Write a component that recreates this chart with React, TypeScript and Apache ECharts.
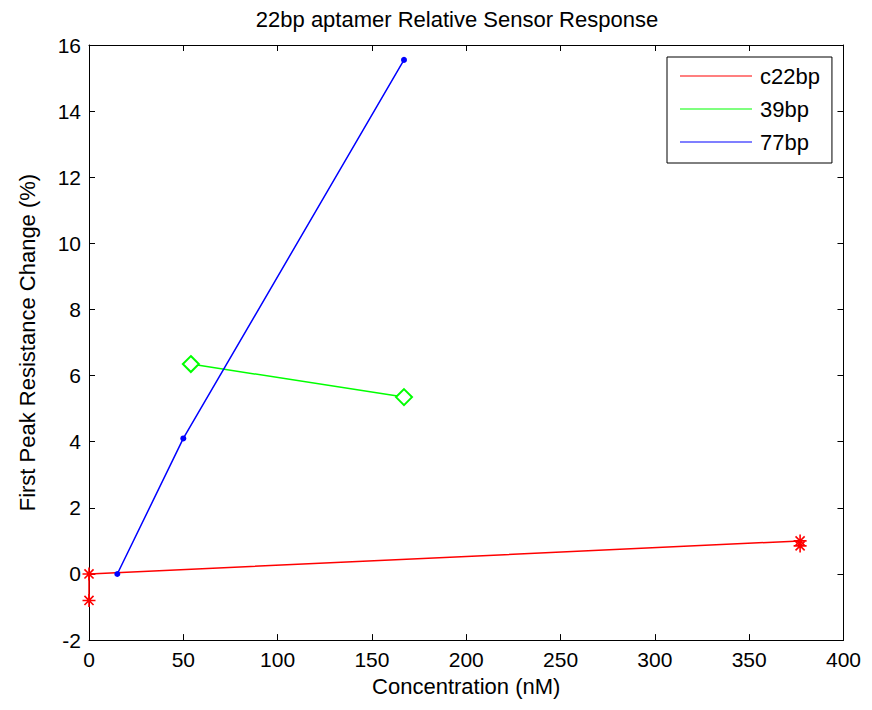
import React, { useEffect, useRef } from "react";
import * as echarts from "echarts";

const titleText = "22bp aptamer Relative Sensor Response";
const xName = "Concentration (nM)";
const yName = "First Peak Resistance Change (%)";

const c22bp: [number, number][] = [
  [0, -0.8],
  [0, 0],
  [377, 1.0],
  [377, 0.85],
];
const bp39: [number, number][] = [
  [54, 6.35],
  [167, 5.35],
];
const bp77: [number, number][] = [
  [15, 0],
  [50, 4.1],
  [167, 15.55],
];

const xMin = 0, xMax = 400, xStep = 50;
const yMin = -2, yMax = 16, yStep = 2;

const FONT = "Liberation Sans, Arial, sans-serif";
const FS = 22;
const TFS = 21;
const asterisk = "path://M0,-1L0,1M-1,0L1,0M-0.7,-0.7L0.7,0.7M-0.7,0.7L0.7,-0.7";

export default function App() {
  const ref = useRef<HTMLDivElement>(null);
  useEffect(() => {
    if (!ref.current) return;
    const chart = echarts.init(ref.current, null, { renderer: "svg" });
    const axisCommon = {
      axisLine: { show: true, onZero: false, lineStyle: { color: "#000", width: 1 } },
      axisTick: { show: true, inside: true, length: 6, lineStyle: { color: "#000" } },
      splitLine: { show: false },
    };
    chart.setOption({
      animation: false,
      backgroundColor: "#fff",
      title: {
        text: titleText,
        left: 449,
        textAlign: "center",
        top: 0,
        padding: 0,
        textStyle: { fontFamily: FONT, fontSize: FS, fontWeight: "normal", color: "#000" },
      },
      grid: { left: 74, right: 16, top: 37, bottom: 55, containLabel: false },
      legend: {
        left: 659,
        top: 49,
        orient: "vertical",
        icon: "rect",
        itemWidth: 72,
        itemHeight: 1.2,
        itemGap: 11,
        padding: [8, 12, 10, 13],
        borderColor: "#000",
        borderWidth: 1,
        backgroundColor: "#fff",
        itemStyle: { borderWidth: 0 },
        textStyle: { fontFamily: FONT, fontSize: FS, color: "#000", padding: [0, 0, 0, 3] },
        data: ["c22bp", "39bp", "77bp"],
      },
      xAxis: [
        {
          type: "value",
          min: xMin,
          max: xMax,
          interval: xStep,
          position: "bottom",
          name: xName,
          nameLocation: "middle",
          nameGap: 34,
          nameTextStyle: { fontFamily: FONT, fontSize: FS, color: "#000" },
          axisLabel: { fontFamily: FONT, fontSize: TFS, color: "#000", margin: 9 },
          ...axisCommon,
        },
        {
          type: "value",
          min: xMin,
          max: xMax,
          interval: xStep,
          position: "top",
          axisLabel: { show: false },
          ...axisCommon,
        },
      ],
      yAxis: [
        {
          type: "value",
          min: yMin,
          max: yMax,
          interval: yStep,
          position: "left",
          name: yName,
          nameLocation: "middle",
          nameGap: 51,
          nameTextStyle: { fontFamily: FONT, fontSize: FS, color: "#000" },
          axisLabel: { fontFamily: FONT, fontSize: TFS, color: "#000", margin: 8 },
          ...axisCommon,
        },
        {
          type: "value",
          min: yMin,
          max: yMax,
          interval: yStep,
          position: "right",
          axisLabel: { show: false },
          ...axisCommon,
        },
      ],
      series: [
        {
          name: "c22bp",
          type: "line",
          data: c22bp,
          xAxisIndex: 0,
          yAxisIndex: 0,
          color: "#ff0000",
          lineStyle: { color: "#ff0000", width: 1.5 },
          symbol: asterisk,
          symbolSize: 13,
          itemStyle: { color: "#ff0000", borderColor: "#ff0000", borderWidth: 1.6 },
          showAllSymbol: true,
        },
        {
          name: "39bp",
          type: "line",
          data: bp39,
          color: "#00ff00",
          lineStyle: { color: "#00ff00", width: 1.5 },
          symbol: "emptyDiamond",
          symbolSize: 16,
          itemStyle: { color: "#00ff00", borderColor: "#00ff00", borderWidth: 1.5 },
        },
        {
          name: "77bp",
          type: "line",
          data: bp77,
          color: "#0000ff",
          lineStyle: { color: "#0000ff", width: 1.5 },
          symbol: "circle",
          symbolSize: 6,
          itemStyle: { color: "#0000ff" },
        },
      ],
    });
    return () => chart.dispose();
  }, []);
  return <div ref={ref} style={{ width: 856, height: 694 }} />;
}
